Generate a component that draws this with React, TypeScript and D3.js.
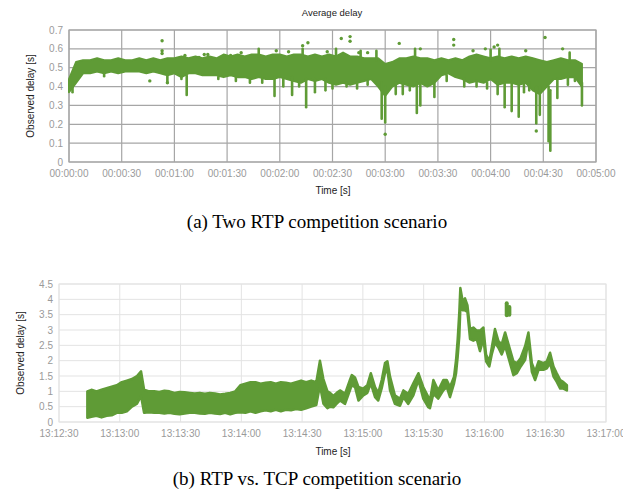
import React, { useEffect, useRef } from 'react';
import * as d3 from 'd3';

const GREEN = '#5f9b36';

// ---- (a) Two RTP competition scenario (seconds since 00:00:00) ----
// dense band sampled every 4 s
const bandTimesA = d3.range(0, 296, 4);
const bandLowA = [
  0.37, 0.42, 0.47, 0.47, 0.48, 0.47, 0.48, 0.47, 0.48, 0.48,
  0.48, 0.47, 0.48, 0.47, 0.46, 0.47, 0.45, 0.47, 0.47, 0.46,
  0.46, 0.46, 0.45, 0.46, 0.45, 0.45, 0.44, 0.45, 0.44, 0.44,
  0.45, 0.44, 0.43, 0.42, 0.44, 0.43, 0.44, 0.42, 0.41, 0.42,
  0.41, 0.42, 0.43, 0.44, 0.40, 0.35, 0.40, 0.42, 0.41, 0.40,
  0.42, 0.40, 0.42, 0.46, 0.47, 0.45, 0.44, 0.42, 0.43, 0.42,
  0.44, 0.41, 0.42, 0.42, 0.41, 0.42, 0.38, 0.36, 0.40, 0.44,
  0.44, 0.45, 0.45, 0.40,
];
const bandHighA = [
  0.44, 0.53, 0.54, 0.54, 0.55, 0.54, 0.54, 0.55, 0.54, 0.54,
  0.55, 0.54, 0.55, 0.54, 0.55, 0.55, 0.56, 0.55, 0.56, 0.55,
  0.56, 0.55, 0.57, 0.56, 0.57, 0.56, 0.57, 0.57, 0.56, 0.57,
  0.57, 0.56, 0.57, 0.57, 0.56, 0.57, 0.56, 0.57, 0.56, 0.58,
  0.56, 0.56, 0.55, 0.55, 0.55, 0.52, 0.53, 0.55, 0.55, 0.56,
  0.55, 0.55, 0.54, 0.55, 0.54, 0.55, 0.54, 0.56, 0.57, 0.56,
  0.55, 0.56, 0.55, 0.56, 0.55, 0.56, 0.55, 0.54, 0.53, 0.54,
  0.55, 0.54, 0.54, 0.52,
];
// short vertical streaks leaving the band (time, from, to)
const streakTimesA = [
  2, 20, 56, 64, 67, 85, 95, 103, 108, 110, 117, 122, 127, 131, 133, 135, 140, 146, 150, 152,
  158, 164, 166, 170, 175, 178, 180, 186, 190, 194, 197, 198, 200, 208, 215, 225, 232, 238, 240, 244,
  245, 248, 252, 256, 259, 262, 266, 268, 273, 274, 278, 284, 285, 288, 292,
];
const streakFromA = [
  0.42, 0.47, 0.46, 0.45, 0.46, 0.45, 0.45, 0.44, 0.56, 0.44, 0.45, 0.44, 0.45, 0.42, 0.56, 0.44, 0.44, 0.44, 0.42, 0.55,
  0.42, 0.42, 0.55, 0.43, 0.54, 0.42, 0.40, 0.42, 0.42, 0.41, 0.55, 0.42, 0.42, 0.42, 0.46, 0.44, 0.43, 0.42, 0.54, 0.42,
  0.55, 0.42, 0.42, 0.42, 0.42, 0.42, 0.40, 0.40, 0.40, 0.38, 0.44, 0.45, 0.53, 0.45, 0.42,
];
const streakToA = [
  0.37, 0.455, 0.42, 0.44, 0.355, 0.44, 0.43, 0.42, 0.60, 0.42, 0.35, 0.40, 0.355, 0.40, 0.60, 0.29, 0.37, 0.38, 0.39, 0.60,
  0.40, 0.39, 0.59, 0.41, 0.59, 0.23, 0.21, 0.36, 0.36, 0.38, 0.60, 0.26, 0.30, 0.345, 0.43, 0.40, 0.40, 0.39, 0.595, 0.36,
  0.60, 0.29, 0.27, 0.24, 0.37, 0.38, 0.205, 0.25, 0.11, 0.06, 0.34, 0.41, 0.58, 0.43, 0.30,
];
// isolated points
const outlierTimesA = [46, 53, 53, 53, 56, 66, 74, 77, 79, 92, 98, 118, 125, 133, 136, 147, 155, 160, 160, 165, 170, 180, 188, 200, 219, 219, 230, 237, 242, 244, 260, 266, 271, 281];
const outlierValuesA = [0.43, 0.643, 0.59, 0.575, 0.42, 0.565, 0.555, 0.57, 0.57, 0.565, 0.58, 0.59, 0.585, 0.617, 0.632, 0.585, 0.655, 0.665, 0.64, 0.58, 0.58, 0.147, 0.629, 0.6, 0.65, 0.62, 0.59, 0.6, 0.61, 0.62, 0.59, 0.164, 0.66, 0.6];
const yTicksA = [0, 0.1, 0.2, 0.3, 0.4, 0.5, 0.6, 0.7];

// ---- (b) RTP vs. TCP competition scenario (seconds since 13:12:30) ----
const timesB = [
  14, 16, 18.5, 21, 23.5, 26, 28.5, 31, 33.5, 36, 38.5, 40.5, 42, 44.5, 47, 49.5, 52, 54.5, 57, 59.5,
  62, 64.5, 67, 69.5, 72, 74.5, 77, 79.5, 82, 84.5, 87, 89.5, 92, 94.5, 97, 99.5, 102, 104.5, 107, 109.5,
  112, 114.5, 117, 119.5, 122, 124.5, 127, 128.8, 130.5, 132.5, 133.8, 135.4, 137.1, 138.7, 141.2, 143.6, 144.5, 146.1, 147.8, 150.2,
  152.2, 153.9, 156, 157.6, 159.3, 160.9, 162.1, 163.4, 165.8, 168.3, 170, 172.4, 174.9, 177.4, 179.8, 182.3, 183.1, 184.8, 187.2, 189.7,
  191.4, 193, 195, 196, 196.8, 197.6, 198.1, 199.3, 200.4, 201.6, 202.9, 204.5, 206.2, 207.8, 209.5, 210.8, 212.4, 213.6, 215.2, 216.9,
  218.5, 220.2, 224.3, 226, 227.9, 230.1, 231.7, 233.4, 235, 236.7, 239.1, 240.8, 242.4, 244.1, 245.7, 247.4, 249, 250.7,
];
const lowB = [
  0.14, 0.17, 0.2, 0.15, 0.2, 0.22, 0.3, 0.3, 0.35, 0.5, 0.6, 0.85, 0.3, 0.32, 0.3, 0.3, 0.28, 0.3, 0.27, 0.25,
  0.28, 0.3, 0.3, 0.28, 0.27, 0.3, 0.28, 0.26, 0.3, 0.25, 0.3, 0.32, 0.3, 0.35, 0.3, 0.35, 0.38, 0.35, 0.4, 0.35,
  0.4, 0.38, 0.42, 0.4, 0.45, 0.5, 0.55, 1.2, 0.6, 0.45, 0.5, 0.48, 0.6, 0.7, 0.59, 1.03, 1.2, 1.14, 0.7, 0.87,
  0.95, 1.26, 0.81, 0.7, 1.1, 1.59, 1.7, 1.03, 0.59, 0.53, 0.81, 0.59, 0.87, 1.37, 0.76, 0.48, 0.45, 0.92, 0.76, 1.03,
  1.14, 0.81, 1.26, 1.59, 2.14, 2.81, 3.7, 3.64, 3.64, 3.59, 2.7, 2.65, 2.7, 2.31, 2.7, 1.98, 1.81, 2.2, 2.59, 2.42,
  2.2, 2.48, 1.53, 1.59, 1.81, 2.03, 2.64, 1.64, 1.37, 1.7, 1.7, 1.75, 1.92, 1.48, 1.31, 1.09, 1.09, 1.03,
];
const highB = [
  1.0, 1.05, 1.0, 1.05, 1.1, 1.15, 1.2, 1.3, 1.35, 1.4, 1.5, 1.65, 1.05, 1.0, 1.0, 0.98, 1.02, 1.0, 0.95, 0.98,
  0.97, 0.95, 0.93, 0.95, 0.92, 0.95, 0.93, 0.9, 0.92, 0.95, 1.0, 1.2, 1.25, 1.3, 1.3, 1.25, 1.28, 1.3, 1.25, 1.3,
  1.28, 1.25, 1.3, 1.35, 1.3, 1.35, 1.3, 2.0, 1.4, 1.0, 0.95, 0.85, 0.95, 1.03, 0.92, 1.37, 1.53, 1.45, 1.14, 1.09,
  1.2, 1.59, 1.14, 0.95, 1.37, 1.92, 1.98, 1.48, 0.87, 0.76, 1.03, 0.92, 1.26, 1.59, 1.14, 0.81, 0.7, 1.37, 1.03, 1.37,
  1.37, 1.14, 1.48, 2.03, 2.7, 3.59, 4.37, 3.92, 4.03, 3.81, 3.03, 3.08, 2.98, 2.98, 3.08, 2.2, 1.98, 2.42, 3.03, 2.64,
  2.53, 2.92, 1.98, 1.92, 2.09, 2.48, 2.92, 1.92, 1.64, 1.98, 1.92, 1.98, 2.26, 1.81, 1.59, 1.37, 1.3, 1.2,
];
// detached blob near 13:16:10
const islandTimesB = [221, 222.3];
const islandLowB = [3.48, 3.5];
const islandHighB = [3.87, 3.75];
const yTicksB = [0, 0.5, 1, 1.5, 2, 2.5, 3, 3.5, 4, 4.5];

const sans = '"Liberation Sans", Arial, sans-serif';
const serif = '"Liberation Serif", "Times New Roman", serif';

type Sel = d3.Selection<SVGSVGElement, unknown, null, undefined>;

interface Panel {
  id: string;
  left: number; right: number; top: number; bottom: number;
  start: number; end: number;
  yTicks: number[];
  gridColor: string;
  gridWidth: number;
  title?: string;
  yLabelX: number;
  xLabelY: number;
  clipRight?: number;
}

const T0A = Date.UTC(1970, 0, 1, 0, 0, 0);
const T0B = Date.UTC(1970, 0, 1, 13, 12, 30);
const ms = (t: number, t0: number) => t0 + t * 1000;

function drawFrame(svg: Sel, p: Panel) {
  const x = d3.scaleUtc().domain([p.start, p.end]).range([p.left, p.right]);
  const y = d3.scaleLinear().domain([0, p.yTicks[p.yTicks.length - 1]]).range([p.bottom, p.top]);

  if (p.clipRight) {
    svg.append('defs').append('clipPath').attr('id', `clip-${p.id}`)
      .append('rect').attr('x', 0).attr('y', 0).attr('width', p.clipRight).attr('height', 501);
  }
  const g = svg.append('g');
  if (p.clipRight) g.attr('clip-path', `url(#clip-${p.id})`);

  const xTicks = x.ticks(d3.utcSecond.every(30)!);
  const fmt = d3.utcFormat('%H:%M:%S');

  // grid
  g.selectAll('.hg').data(p.yTicks).enter().append('line')
    .attr('x1', p.left).attr('x2', p.right)
    .attr('y1', d => y(d)).attr('y2', d => y(d))
    .attr('stroke', p.gridColor).attr('stroke-width', p.gridWidth);
  g.selectAll('.vg').data(xTicks).enter().append('line')
    .attr('x1', d => x(d)).attr('x2', d => x(d))
    .attr('y1', p.top).attr('y2', p.bottom)
    .attr('stroke', p.gridColor).attr('stroke-width', p.gridWidth);
  g.append('rect')
    .attr('x', p.left).attr('y', p.top)
    .attr('width', p.right - p.left).attr('height', p.bottom - p.top)
    .attr('fill', 'none').attr('stroke', p.gridColor).attr('stroke-width', p.gridWidth);

  // tick labels
  g.selectAll('.yl').data(p.yTicks).enter().append('text')
    .attr('x', p.left - 6).attr('y', d => y(d) + 3.5)
    .attr('text-anchor', 'end')
    .attr('font-family', sans).attr('font-size', 10).attr('fill', '#9a9a9a')
    .text(d => String(d));
  g.selectAll('.xl').data(xTicks).enter().append('text')
    .attr('x', d => x(d)).attr('y', p.bottom + 14.5)
    .attr('text-anchor', 'middle')
    .attr('font-family', sans).attr('font-size', 10).attr('fill', '#9a9a9a')
    .text(d => fmt(d));

  // axis titles
  g.append('text')
    .attr('transform', `translate(${p.yLabelX},${(p.top + p.bottom) / 2}) rotate(-90)`)
    .attr('text-anchor', 'middle').attr('dominant-baseline', 'central')
    .attr('font-family', sans).attr('font-size', 10).attr('fill', '#222')
    .text('Observed delay [s]');
  g.append('text')
    .attr('x', 333).attr('y', p.xLabelY)
    .attr('text-anchor', 'middle')
    .attr('font-family', sans).attr('font-size', 10).attr('fill', '#222')
    .text('Time [s]');
  if (p.title) {
    g.append('text')
      .attr('x', 332).attr('y', 16)
      .attr('text-anchor', 'middle')
      .attr('font-family', sans).attr('font-size', 9.5).attr('fill', '#222')
      .text(p.title);
  }
  return { x, y, g };
}

const App: React.FC = () => {
  const svgRef = useRef<SVGSVGElement | null>(null);

  useEffect(() => {
    if (!svgRef.current) return;
    const svg = d3.select(svgRef.current);
    svg.selectAll('*').remove();

    // ---- panel (a)
    const pa: Panel = {
      id: 'a', left: 69, right: 596, top: 30, bottom: 162,
      start: T0A, end: T0A + 300000, yTicks: yTicksA,
      gridColor: '#a6a6a6', gridWidth: 1.2, title: 'Average delay',
      yLabelX: 30, xLabelY: 194,
    };
    const a = drawFrame(svg, pa);

    const bandA = d3.area<number>()
      .x(d => a.x(ms(d, T0A)))
      .y0((_, i) => a.y(bandLowA[i]))
      .y1((_, i) => a.y(bandHighA[i]));
    a.g.append('path').datum(bandTimesA)
      .attr('d', bandA)
      .attr('fill', GREEN)
      .attr('stroke', GREEN).attr('stroke-width', 2).attr('stroke-linejoin', 'round');
    a.g.selectAll('.streak').data(streakTimesA).enter().append('line')
      .attr('x1', d => a.x(ms(d, T0A))).attr('x2', d => a.x(ms(d, T0A)))
      .attr('y1', (_, i) => a.y(streakFromA[i])).attr('y2', (_, i) => a.y(streakToA[i]))
      .attr('stroke', GREEN).attr('stroke-width', 2.6).attr('stroke-linecap', 'round');
    a.g.selectAll('.pt').data(outlierTimesA).enter().append('circle')
      .attr('cx', d => a.x(ms(d, T0A)))
      .attr('cy', (_, i) => a.y(outlierValuesA[i]))
      .attr('r', 1.7).attr('fill', GREEN);

    // ---- panel (b)
    const pb: Panel = {
      id: 'b', left: 59, right: 606, top: 284, bottom: 422,
      start: T0B, end: T0B + 270000, yTicks: yTicksB,
      gridColor: '#e3e3e3', gridWidth: 1,
      yLabelX: 20, xLabelY: 455, clipRight: 623,
    };
    const b = drawFrame(svg, pb);
    const bandB = d3.area<number>()
      .x(d => b.x(ms(d, T0B)))
      .y0((_, i) => b.y(lowB[i]))
      .y1((_, i) => b.y(highB[i]));
    b.g.append('path').datum(timesB)
      .attr('d', bandB)
      .attr('fill', GREEN)
      .attr('stroke', GREEN).attr('stroke-width', 2.5).attr('stroke-linejoin', 'round');
    b.g.selectAll('.island').data(islandTimesB).enter().append('line')
      .attr('x1', d => b.x(ms(d, T0B))).attr('x2', d => b.x(ms(d, T0B)))
      .attr('y1', (_, i) => b.y(islandLowB[i])).attr('y2', (_, i) => b.y(islandHighB[i]))
      .attr('stroke', GREEN).attr('stroke-width', 4).attr('stroke-linecap', 'round');

    // captions
    svg.append('text').attr('x', 317).attr('y', 228)
      .attr('text-anchor', 'middle').attr('font-family', serif).attr('font-size', 19)
      .attr('fill', '#000').text('(a) Two RTP competition scenario');
    svg.append('text').attr('x', 317).attr('y', 485)
      .attr('text-anchor', 'middle').attr('font-family', serif).attr('font-size', 19)
      .attr('fill', '#000').text('(b) RTP vs. TCP competition scenario');
  }, []);

  return (
    <svg
      ref={svgRef}
      width={634}
      height={501}
      style={{ position: 'absolute', left: 0, top: 0, background: '#fff' }}
    />
  );
};

export default App;
